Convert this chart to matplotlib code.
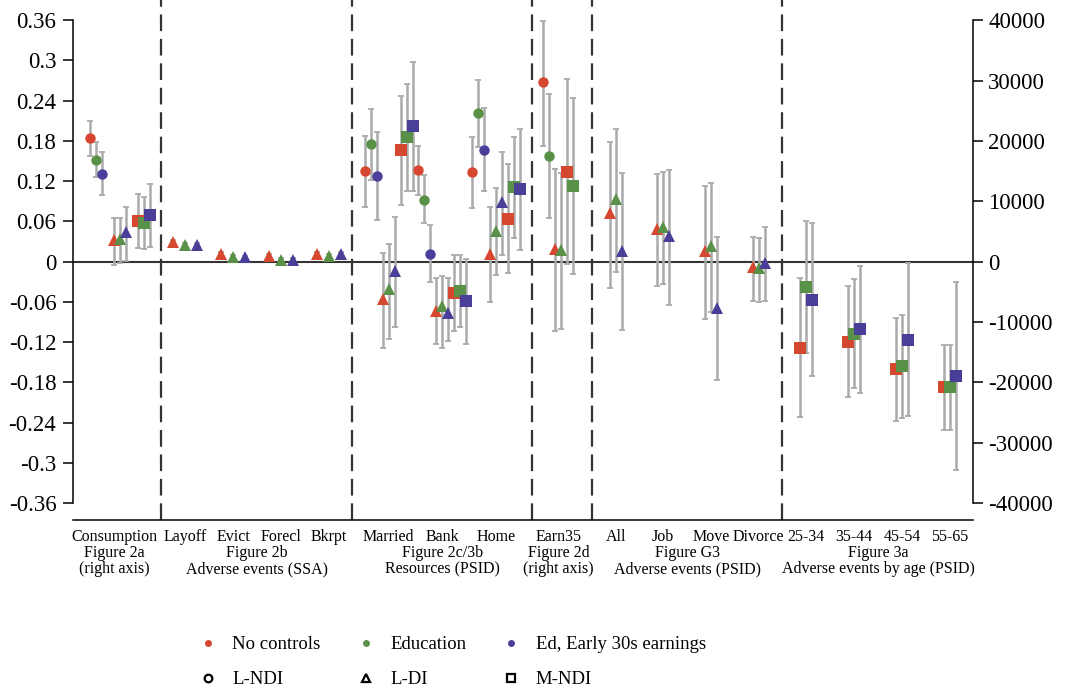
import numpy as np
import matplotlib
matplotlib.use('Agg')
import matplotlib.pyplot as plt
from matplotlib.lines import Line2D

plt.rcParams['font.family'] = ['Liberation Serif', 'DejaVu Serif']
plt.rcParams['axes.unicode_minus'] = False

controls = ['No controls', 'Education', 'Ed, Early 30s earnings']
colors = ['#d6472f', '#5a9149', '#4a3f98']
types = ['L-NDI', 'L-DI', 'M-NDI']
type_markers = {'L-NDI': 'o', 'L-DI': '^', 'M-NDI': 's'}
type_ms = {'L-NDI': 7.5, 'L-DI': 9.0, 'M-NDI': 8.0}

categories = ['Consumption', 'Layoff', 'Evict', 'Forecl', 'Bkrpt',
              'Married', 'Bank', 'Home', 'Earn35',
              'All', 'Job', 'Move', 'Divorce',
              '25-34', '35-44', '45-54', '55-65']
right_axis_cats = ['Consumption', 'Earn35']  # values in dollars

# estimates and CI bounds, one entry per control (None = not estimated)
ndi_est = {'Consumption': [20400, 16850, 14500], 'Married': [0.135, 0.175, 0.128],
           'Bank': [0.136, 0.092, 0.012], 'Home': [0.133, 0.221, 0.167],
           'Earn35': [29800, 17520, None]}
ndi_lo = {'Consumption': [17500, 14000, 11060], 'Married': [0.082, 0.121, 0.062],
          'Bank': [0.100, 0.057, -0.030], 'Home': [0.080, 0.171, 0.106],
          'Earn35': [19230, 7300, None]}
ndi_hi = {'Consumption': [23300, 19800, 18200], 'Married': [0.188, 0.228, 0.193],
          'Bank': [0.173, 0.129, 0.054], 'Home': [0.186, 0.271, 0.229],
          'Earn35': [39800, 27690, None]}

di_est = {'Consumption': [3530, 3700, 4920],
          'Layoff': [0.030, 0.025, 0.025], 'Evict': [0.011, 0.007, 0.0065],
          'Forecl': [0.0085, 0.0025, 0.003], 'Bkrpt': [0.012, 0.009, 0.011],
          'Married': [-0.055, -0.041, -0.0145], 'Bank': [-0.073, -0.066, -0.077],
          'Home': [0.012, 0.046, 0.089], 'Earn35': [2150, 1990, None],
          'All': [0.072, 0.094, 0.016], 'Job': [0.049, 0.052, 0.038],
          'Move': [0.016, 0.024, -0.069], 'Divorce': [-0.008, -0.010, -0.0015]}
di_lo = {'Consumption': [-500, -170, 110],
         'Layoff': [0.027, 0.022, 0.022], 'Evict': [0.008, 0.004, 0.004],
         'Forecl': [0.006, 0.000, 0.001], 'Bkrpt': [0.009, 0.006, 0.008],
         'Married': [-0.128, -0.115, -0.097], 'Bank': [-0.123, -0.128, -0.118],
         'Home': [-0.060, -0.020, 0.010], 'Earn35': [-11550, -11110, None],
         'All': [-0.039, -0.015, -0.102], 'Job': [-0.036, -0.033, -0.064],
         'Move': [-0.085, -0.075, -0.177], 'Divorce': [-0.058, -0.060, -0.058]}
di_hi = {'Consumption': [7300, 7300, 9070],
         'Layoff': [0.033, 0.028, 0.028], 'Evict': [0.014, 0.010, 0.009],
         'Forecl': [0.011, 0.005, 0.005], 'Bkrpt': [0.015, 0.012, 0.014],
         'Married': [0.013, 0.026, 0.066], 'Bank': [-0.024, -0.022, -0.025],
         'Home': [0.081, 0.110, 0.164], 'Earn35': [15420, 14700, None],
         'All': [0.178, 0.198, 0.132], 'Job': [0.130, 0.134, 0.136],
         'Move': [0.113, 0.118, 0.037], 'Divorce': [0.037, 0.036, 0.052]}

mndi_est = {'Consumption': [6690, 6470, 7680], 'Married': [0.166, 0.186, 0.202],
            'Bank': [-0.047, -0.044, -0.059], 'Home': [0.064, 0.111, 0.108],
            'Earn35': [14870, 12490, None],
            '25-34': [-0.128, -0.037, -0.057], '35-44': [-0.120, -0.108, -0.101],
            '45-54': [-0.160, -0.156, -0.116], '55-65': [-0.187, -0.187, -0.171]}
mndi_lo = {'Consumption': [2210, 2100, 2490], 'Married': [0.085, 0.106, 0.106],
           'Bank': [-0.104, -0.098, -0.122], 'Home': [-0.017, 0.036, 0.018],
           'Earn35': [-380, -2040, None],
           '25-34': [-0.232, -0.136, -0.170], '35-44': [-0.202, -0.189, -0.196],
           '45-54': [-0.237, -0.233, -0.230], '55-65': [-0.251, -0.251, -0.310]}
mndi_hi = {'Consumption': [11160, 10660, 12820], 'Married': [0.247, 0.265, 0.297],
           'Bank': [0.010, 0.010, 0.0045], 'Home': [0.145, 0.186, 0.197],
           'Earn35': [30230, 27030, None],
           '25-34': [-0.024, 0.061, 0.058], '35-44': [-0.036, -0.026, -0.0064],
           '45-54': [-0.084, -0.079, -0.0015], '55-65': [-0.124, -0.124, -0.031]}

series = {'L-NDI': (ndi_est, ndi_lo, ndi_hi),
          'L-DI': (di_est, di_lo, di_hi),
          'M-NDI': (mndi_est, mndi_lo, mndi_hi)}

groups = [('Figure 2a', '(right axis)', ['Consumption']),
          ('Figure 2b', 'Adverse events (SSA)', ['Layoff', 'Evict', 'Forecl', 'Bkrpt']),
          ('Figure 2c/3b', 'Resources (PSID)', ['Married', 'Bank', 'Home']),
          ('Figure 2d', '(right axis)', ['Earn35']),
          ('Figure G3', 'Adverse events (PSID)', ['All', 'Job', 'Move', 'Divorce']),
          ('Figure 3a', 'Adverse events by age (PSID)', ['25-34', '35-44', '45-54', '55-65'])]

# layout (x in slots of 6 px)
cat_x = [7.75, 18.67, 26.67, 34.67, 42.67, 52.6, 61.5, 70.5, 80.9,
         90.5, 98.3, 106.3, 114.3, 122.2, 130.2, 138.2, 146.1]
label_shift = {'Consumption': -0.9}
dividers = [14.67, 46.5, 76.5, 86.5, 118.2]
# (spacing between marker types, spacing between controls)
spacing = {'Consumption': (4, 1), 'Earn35': (2, 1),
           'Layoff': (0, 2), 'Evict': (0, 2), 'Forecl': (0, 2), 'Bkrpt': (0, 2)}

scale = 0.36 / 40000.0

fig = plt.figure(figsize=(10.71, 6.87), dpi=100)
ax = fig.add_axes([73 / 1071, 1 - 520 / 687, 900 / 1071, 520 / 687])
ax.set_xlim(0, 150)
ax.set_ylim(-0.385, 0.390)

ax.axhline(0, color='#333333', lw=1.5, zorder=1)
for d in dividers:
  ax.axvline(d, color='#333333', lw=1.6, ls=(0, (7.5, 3.5)), zorder=1)

for ci, cat in enumerate(categories):
  present = [t for t in types if cat in series[t][0]]
  tstep, cstep = spacing.get(cat, (3, 1))
  for k, t in enumerate(present):
    est, lo, hi = series[t]
    vals = est[cat]
    nctrl = len([v for v in vals if v is not None])
    f = scale if cat in right_axis_cats else 1.0
    for c in range(3):
      if vals[c] is None:
        continue
      x = cat_x[ci] + (k - (len(present) - 1) / 2) * tstep + (c - (nctrl - 1) / 2) * cstep
      y = vals[c] * f
      ax.errorbar([x], [y], yerr=[[y - lo[cat][c] * f], [hi[cat][c] * f - y]],
                  fmt='none', ecolor='#aaaaaa', elinewidth=1.8, capsize=2.5,
                  capthick=1.3, zorder=2)
      ax.plot([x], [y], ls='none', marker=type_markers[t], ms=type_ms[t],
              color=colors[c], mew=0, zorder=3)

# axes styling
yt = np.round(np.arange(-0.36, 0.361, 0.06), 2)
ax.set_yticks(yt)
ax.set_yticklabels(['%g' % v if abs(v) > 1e-9 else '0' for v in yt])
ax.set_xticks([])
ax.tick_params(axis='y', direction='out', length=7, width=1.1, labelsize=16.5, pad=5)
for s in ['top', 'right']:
  ax.spines[s].set_visible(False)
ax.spines['left'].set_bounds(-0.36, 0.36)
ax.spines['left'].set_linewidth(1.1)
ax.spines['bottom'].set_linewidth(1.1)

ax2 = ax.twinx()
ax2.set_ylim(-0.385 / scale, 0.390 / scale)
ax2.set_yticks(np.arange(-40000, 40001, 10000))
ax2.tick_params(axis='y', direction='out', length=7, width=1.1, labelsize=16.5, pad=4)
for s in ['top', 'left', 'bottom']:
  ax2.spines[s].set_visible(False)
ax2.spines['right'].set_bounds(-40000, 40000)
ax2.spines['right'].set_linewidth(1.1)

# category and group labels
trans = ax.get_xaxis_transform()
for ci, cat in enumerate(categories):
  lx = cat_x[ci] + label_shift.get(cat, 0)
  ax.annotate(cat, xy=(lx, 0), xycoords=trans, xytext=(0, -12),
              textcoords='offset points', ha='center', va='center', fontsize=11.5)
for g1, g2, cats in groups:
  gx = np.mean([cat_x[categories.index(c)] + label_shift.get(c, 0) for c in cats])
  ax.annotate(g1, xy=(gx, 0), xycoords=trans, xytext=(0, -23.5),
              textcoords='offset points', ha='center', va='center', fontsize=11.5)
  ax.annotate(g2, xy=(gx, 0), xycoords=trans, xytext=(0, -35.5),
              textcoords='offset points', ha='center', va='center', fontsize=11.5)

handles = []
for c in range(3):
  handles.append(Line2D([], [], ls='none', marker='o', ms=5, mew=0,
                        color=colors[c], label=controls[c]))
  t = types[c]
  handles.append(Line2D([], [], ls='none', marker=type_markers[t], ms=5.5,
                        mfc='none', mec='black', mew=1.6, label=t))
fig.legend(handles=handles, ncol=3, loc='upper left', bbox_to_anchor=(0.1855, 0.074),
           frameon=False, fontsize=13.5, handlelength=1.0, handletextpad=0.8,
           columnspacing=1.9, labelspacing=0.95, borderpad=0, borderaxespad=0)

plt.savefig('out.png', dpi=100)
